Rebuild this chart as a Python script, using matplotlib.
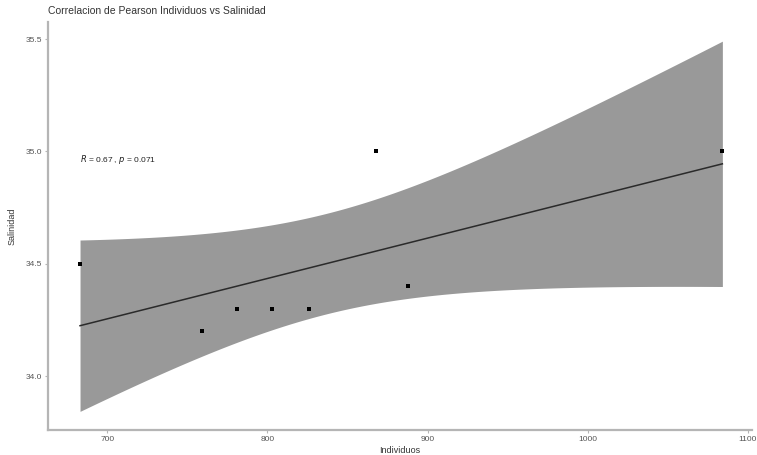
import numpy as np
import matplotlib
matplotlib.use("Agg")
import matplotlib.pyplot as plt

plt.rcParams['font.family'] = ['Liberation Sans', 'DejaVu Sans']

# Observations
individuos = [683, 759, 781, 803, 826, 868, 888, 1084]
salinidad = [34.5, 34.2, 34.3, 34.3, 34.3, 35.0, 34.4, 35.0]
p_value = 0.071
x_ticks = [700, 800, 900, 1000, 1100]
y_ticks = [34.0, 34.5, 35.0, 35.5]

x = np.array(individuos, dtype=float)
y = np.array(salinidad, dtype=float)
n = len(x)

# Ordinary least squares fit with a 95% confidence band
slope, intercept = np.polyfit(x, y, 1)
resid = y - (slope * x + intercept)
s = np.sqrt(np.sum(resid ** 2) / (n - 2))
t_crit = 2.446912  # Student t, 0.975 quantile, 6 degrees of freedom
xs = np.linspace(x.min(), x.max(), 200)
fit = slope * xs + intercept
se = s * np.sqrt(1.0 / n + (xs - x.mean()) ** 2 / np.sum((x - x.mean()) ** 2))
lower, upper = fit - t_crit * se, fit + t_crit * se

r = np.corrcoef(x, y)[0, 1]

fig = plt.figure(figsize=(7.57, 4.55), dpi=100)
ax = fig.add_axes([0.0634, 0.055, 0.93, 0.8966])

ax.fill_between(xs, lower, upper, color='#999999', linewidth=0, zorder=1)
ax.plot(xs, fit, color='#2a2a2a', linewidth=1.1, zorder=2)
ax.scatter(x, y, s=7, color='black', marker='s', zorder=3, linewidths=0)

ax.text(683, 34.965, f"$R$ = {r:.2f} , $p$ = {p_value}", fontsize=6,
        color='#222222', ha='left', va='center')

ax.set_xlim(663, 1102.5)
ax.set_ylim(33.76, 35.576)
ax.set_xticks(x_ticks)
ax.set_xticklabels([str(t) for t in x_ticks])
ax.set_yticks(y_ticks)
ax.set_yticklabels([f"{t:.1f}" for t in y_ticks])

for side in ('top', 'right'):
    ax.spines[side].set_visible(False)
for side in ('left', 'bottom'):
    ax.spines[side].set_color('#b5b5b5')
    ax.spines[side].set_linewidth(1.6)

ax.tick_params(axis='both', length=2.5, width=0.8, color='#b5b5b5',
               labelsize=6, labelcolor='#555555', pad=2)

ax.set_xlabel("Individuos", fontsize=6.5, color='#333333', labelpad=2)
ax.set_ylabel("Salinidad", fontsize=6.5, color='#333333', labelpad=6)
ax.set_title("Correlacion de Pearson Individuos vs Salinidad", fontsize=7.5,
             color='#333333', loc='left', x=0.0, pad=6)

fig.savefig("out.png", dpi=100)
